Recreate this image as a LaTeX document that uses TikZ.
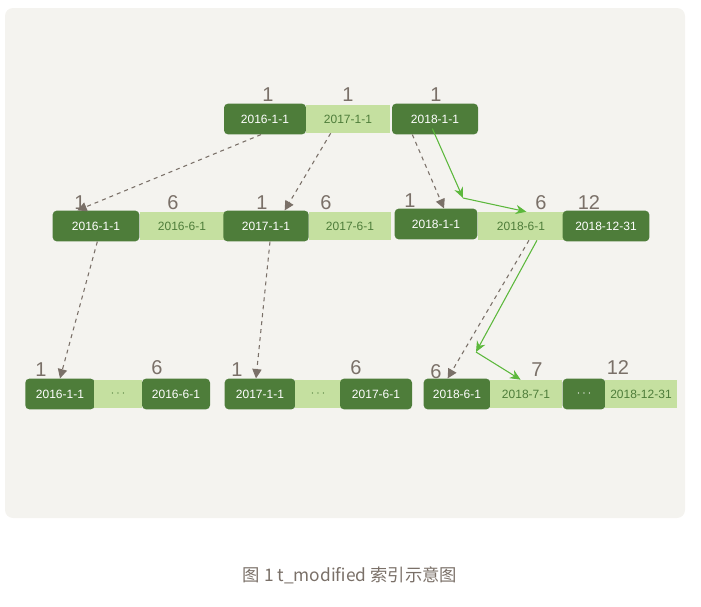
\documentclass[tikz,border=0pt]{standalone}
\usepackage{fontspec}
\setmainfont{Liberation Sans}
\newfontfamily\cjk{Noto Sans CJK SC}
\usetikzlibrary{arrows.meta}
\definecolor{bg}{HTML}{F4F3EF}
\definecolor{dk}{HTML}{4E7D3A}
\definecolor{lt}{HTML}{C5E0A0}
\definecolor{gy}{HTML}{7A7068}
\definecolor{gr}{HTML}{5CB83C}
\tikzset{
 dbox/.style={fill=dk,rounded corners=3pt,text=white,minimum height=23pt,inner sep=0pt,font=\fontsize{9}{9}\selectfont},
 lbox/.style={fill=lt,text=dk,minimum height=21pt,inner sep=0pt,font=\fontsize{9}{9}\selectfont},
 num/.style={text=gy,font=\fontsize{15}{15}\selectfont},
 dash/.style={},
 darr/.style={gy,dashed,thick,-{Triangle[length=7pt,width=7pt]}},
 garr/.style={gr,thick,-{Stealth[length=8pt,width=7pt]}}
}
\begin{document}
\begin{tikzpicture}[x=0.75pt,y=-0.75pt]
\useasboundingbox (0,0) rectangle (701,607);
\fill[bg,rounded corners=6pt] (5,8) rectangle (685,518);
% top
\node[dbox,minimum width=61.5pt] (t1) at (265,119) {2016-1-1};
\node[lbox,minimum width=63pt] (t2) at (348,119) {2017-1-1};
\node[dbox,minimum width=64.5pt] (t3) at (435,119) {2018-1-1};
\node[num] (tn1) at (268,95) {1};
\node[num] (tn2) at (348,95) {1};
\node[num] (tn3) at (436,95) {1};
% middle
\node[dbox,minimum width=65pt] (m1) at (96,226) {2016-1-1};
\node[lbox,minimum width=63pt] (m2) at (182,226) {2016-6-1};
\node[dbox,minimum width=64pt] (m3) at (266,226) {2017-1-1};
\node[lbox,minimum width=61pt] (m4) at (350,226) {2017-6-1};
\node[dbox,minimum width=62pt] (m5) at (436,224) {2018-1-1};
\node[lbox,minimum width=64pt] (m6) at (521,226) {2018-6-1};
\node[dbox,minimum width=65pt] (m7) at (606,226) {2018-12-31};
\node[num] at (80,203) {1};
\node[num] at (173,203) {6};
\node[num] at (262,203) {1};
\node[num] at (326,203) {6};
\node[num] at (410,201) {1};
\node[num] at (541,203) {6};
\node[num] at (589,203) {12};
% bottom
\node[dbox,minimum width=52pt] (b1) at (60,394) {2016-1-1};
\node[lbox,minimum width=36pt] (b2) at (118,394) {$\cdots$};
\node[dbox,minimum width=51pt] (b3) at (176,394) {2016-6-1};
\node[dbox,minimum width=53pt] (b4) at (260,394) {2017-1-1};
\node[lbox,minimum width=34pt] (b5) at (318,394) {$\cdots$};
\node[dbox,minimum width=54pt] (b6) at (376,394) {2017-6-1};
\node[dbox,minimum width=50pt] (b7) at (457,394) {2018-6-1};
\node[lbox,minimum width=54pt] (b8) at (526,394) {2018-7-1};
\node[dbox,minimum width=32pt] (b9) at (584,394) {$\cdots$};
\node[lbox,minimum width=54pt] (b10) at (641,394) {2018-12-31};
\node[num] at (41,370) {1};
\node[num] at (157,368) {6};
\node[num] at (237,370) {1};
\node[num] at (356,368) {6};
\node[num] at (436,372) {6};
\node[num] at (537,370) {7};
\node[num] at (618,368) {12};
% dashed arrows
\draw[darr] ([xshift=-3pt]t1.south) -- ([xshift=-14pt]m1.north);
\draw[darr] ([xshift=-13pt]t2.south) -- ([xshift=14pt]m3.north);
\draw[darr] ([xshift=-17pt]t3.south) -- ([xshift=6pt]m5.north);
\draw[darr] ([xshift=1pt]m1.south) -- (b1.north);
\draw[darr] ([xshift=3pt]m3.south) -- ([xshift=-3pt]b4.north);
\draw[darr] ([xshift=6pt]m6.south) -- ([xshift=-7pt]b7.north);
% green path
\coordinate (g1) at (463,198);
\coordinate (g2) at (476,352);
\draw[garr] ([xshift=-2pt]t3.south) ++(0,-6) -- (g1);
\draw[garr] (g1) -- ([xshift=4pt]m6.north);
\draw[garr] ([xshift=12pt]m6.south) -- (g2);
\draw[garr] (g2) -- ([xshift=-4pt]b8.north);
\node[text=gy,font=\cjk\fontsize{13}{13}\selectfont] (cap) at (350,575) {图 1 t\_modified 索引示意图};
\end{tikzpicture}
\end{document}
